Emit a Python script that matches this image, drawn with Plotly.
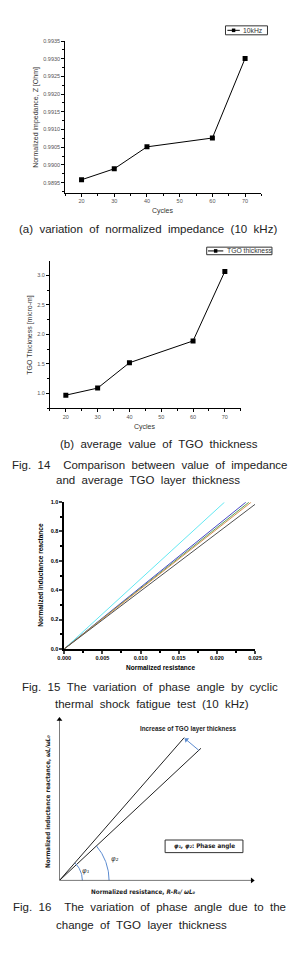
import numpy as np
import plotly.graph_objects as go

W, H = 305, 954

# ---------------- data ----------------
cycles = [20, 30, 40, 60, 70]
impedance_10khz = [0.98958, 0.98989, 0.99051, 0.99076, 0.99301]
tgo_thickness = [0.97, 1.09, 1.52, 1.89, 3.07]

# Fig.15: end points of the phase lines (from origin)
phase_res_end = [0.0210, 0.0238, 0.0242, 0.0245, 0.0250]
phase_react_end = [1.0, 1.0, 1.0, 1.0, 0.985]
phase_colors = ["#63e8f2", "#4848c8", "#5aa05a", "#d89050", "#505050"]

# Fig.16 schematic (units: diagram coordinates)
schem_line1_end = [130.7, 143.7]
schem_line2_end = [148.3, 133.0]
schem_arc_radius = [24, 52]
schem_shift_arrow_x = [146, 133]
schem_shift_arrow_y = [131, 141.5]
x_axis_len, y_axis_len = 202, 162


def px(x):
    return x / W


def py(y):
    return 1 - y / H


fig = go.Figure()

# ---- (a) impedance ----
fig.add_trace(go.Scatter(x=cycles, y=impedance_10khz, mode="lines+markers",
                         line=dict(color="black", width=1),
                         marker=dict(symbol="square", size=5, color="black"),
                         xaxis="x", yaxis="y", showlegend=False))
# ---- (b) TGO ----
fig.add_trace(go.Scatter(x=cycles, y=tgo_thickness, mode="lines+markers",
                         line=dict(color="black", width=1),
                         marker=dict(symbol="square", size=5, color="black"),
                         xaxis="x2", yaxis="y2", showlegend=False))
# ---- Fig 15 ----
for xr, yr, c in zip(phase_res_end, phase_react_end, phase_colors):
    fig.add_trace(go.Scatter(x=[0, xr], y=[0, yr], mode="lines",
                             line=dict(color=c, width=1),
                             xaxis="x3", yaxis="y3", showlegend=False))
# ---- Fig 16 ----
for end in (schem_line1_end, schem_line2_end):
    fig.add_trace(go.Scatter(x=[0, end[0]], y=[0, end[1]], mode="lines",
                             line=dict(color="#222", width=1),
                             xaxis="x4", yaxis="y4", showlegend=False))
for r, end in zip(schem_arc_radius, (schem_line1_end, schem_line2_end)):
    ang = np.arctan2(end[1], end[0])
    t = np.linspace(0, ang, 40)
    fig.add_trace(go.Scatter(x=r * np.cos(t), y=r * np.sin(t), mode="lines",
                             line=dict(color="#5b8bd0", width=1),
                             xaxis="x4", yaxis="y4", showlegend=False))
# axis arrows + thickness-shift arrow (triangle head rotated along the shaft)
for xs, ys, col, sz in [([0, 0], [0, y_axis_len], "black", 5),
                        ([0, x_axis_len], [0, 0], "black", 5),
                        (schem_shift_arrow_x, schem_shift_arrow_y, "#5b8bd0", 5)]:
    head_angle = float(np.degrees(np.arctan2(xs[1] - xs[0], ys[1] - ys[0])))
    fig.add_trace(go.Scatter(x=xs, y=ys, mode="lines",
                             line=dict(color=col, width=1),
                             xaxis="x4", yaxis="y4", showlegend=False, cliponaxis=False))
    fig.add_trace(go.Scatter(x=[xs[1]], y=[ys[1]], mode="markers",
                             marker=dict(symbol="triangle-up", angle=head_angle, size=sz,
                                         color=col, line=dict(width=0)),
                             xaxis="x4", yaxis="y4", showlegend=False, cliponaxis=False))

tickfont_ab = dict(size=5.5, color="#555", family="Liberation Sans")
axis_common = dict(showline=True, linecolor="black", linewidth=1, ticks="outside",
                   ticklen=3, tickcolor="black", showgrid=False, zeroline=False,
                   tickfont=tickfont_ab, mirror=False)

fig.update_layout(
    width=W, height=H, margin=dict(l=0, r=0, t=0, b=0),
    paper_bgcolor="white", plot_bgcolor="white",
    xaxis=dict(domain=[px(61), px(266.7)], range=[15, 75], dtick=10, anchor="y",
               minor=dict(ticks="outside", dtick=5, ticklen=2, tickcolor="black"), **axis_common),
    yaxis=dict(domain=[py(190.7), py(38.3)], range=[0.98922, 0.9935], dtick=0.0005,
               tickformat=".4f", anchor="x",
               minor=dict(ticks="outside", dtick=0.00025, ticklen=2, tickcolor="black"), **axis_common),
    xaxis2=dict(domain=[px(45), px(245)], range=[15, 75], dtick=10, anchor="y2",
                minor=dict(ticks="outside", dtick=5, ticklen=2, tickcolor="black"), **axis_common),
    yaxis2=dict(domain=[py(407.7), py(260)], range=[0.75, 3.24], dtick=0.5, tickformat=".1f",
                anchor="x2",
                minor=dict(ticks="outside", dtick=0.25, ticklen=2, tickcolor="black"), **axis_common),
    xaxis3=dict(domain=[px(60), px(260)], range=[0, 0.025], dtick=0.005, tickformat=".3f",
                anchor="y3", showline=True, linecolor="black", linewidth=1.5, ticks="outside",
                ticklen=3, tickwidth=1.5, showgrid=False, zeroline=False,
                tickfont=dict(size=5.5, color="black", family="Liberation Sans", weight="bold"),
                minor=dict(ticks="outside", dtick=0.0025, ticklen=2, tickcolor="black")),
    yaxis3=dict(domain=[py(650), py(502.3)], range=[0, 1.0], dtick=0.2, tickformat=".1f",
                anchor="x3", showline=True, linecolor="black", linewidth=1.5, ticks="outside",
                ticklen=3, tickwidth=1.5, showgrid=False, zeroline=False,
                tickfont=dict(size=5.5, color="black", family="Liberation Sans", weight="bold"),
                minor=dict(ticks="outside", dtick=0.1, ticklen=2, tickcolor="black")),
    xaxis4=dict(domain=[px(55), px(257)], range=[0, x_axis_len], visible=False, anchor="y4"),
    yaxis4=dict(domain=[py(883), py(721)], range=[0, y_axis_len], visible=False, anchor="x4"),
)

ann = []
shapes = []


def text(x, y, s, size=12, color="#222", angle=0, bold=False, family="Liberation Sans",
         xanchor="center"):
    ann.append(dict(x=px(x), y=py(y), xref="paper", yref="paper", text=s, showarrow=False,
                    textangle=angle, xanchor=xanchor, yanchor="middle",
                    font=dict(size=size, color=color, family=family,
                              weight="bold" if bold else "normal")))


# axis titles (a), (b)
text(31, 115, "Normalized impedance, Z [Ohm]", size=7, color="#333", angle=-90)
text(164, 209, "Cycles", size=7, color="#333")
text(24, 334, "TGO Thickness [micro-m]", size=7, color="#333", angle=-90)
text(145, 426.7, "Cycles", size=7, color="#333")
# Fig 15 titles
text(35, 575, "Normalized inductance reactance", size=6.5, color="black", angle=-90, bold=True)
text(161, 669, "Normalized resistance", size=6.5, color="black", bold=True)
# Fig 16 titles
text(43, 804, "Normalized inductance reactance, <i>ωL/ωL₀</i>", size=6.3,
     color="#222", angle=-90, bold=True, family="DejaVu Sans Condensed")
text(143.5, 894, "Normalized resistance, <i>R-R₀/ ωL₀</i>", size=6.3,
     color="#222", bold=True, family="DejaVu Sans Condensed")
text(190, 731, "Increase of TGO layer thickness", size=6.3, color="#222", bold=True)
text(206.5, 848.7, "<i>φ₁, φ₂</i>: Phase angle", size=6.3, color="#222", bold=True,
     family="DejaVu Sans Condensed")
shapes.append(dict(type="rect", xref="paper", yref="paper", x0=px(165.7), x1=px(247.3),
                   y0=py(855), y1=py(842.3), line=dict(color="#333", width=1)))
text(83, 873, "<i>φ₁</i>", size=7, color="#333", family="DejaVu Sans")
text(113, 861, "<i>φ₂</i>", size=7, color="#333", family="DejaVu Sans")


# legends (manual)
def legend_box(x0, y0, x1, y1, lx0, lx1, label):
    ym = (y0 + y1) / 2
    shapes.append(dict(type="rect", xref="paper", yref="paper", x0=px(x0), x1=px(x1),
                       y0=py(y1), y1=py(y0), line=dict(color="#333", width=1)))
    shapes.append(dict(type="line", xref="paper", yref="paper", x0=px(lx0), x1=px(lx1),
                       y0=py(ym), y1=py(ym), line=dict(color="black", width=1)))
    c = (lx0 + lx1) / 2
    shapes.append(dict(type="rect", xref="paper", yref="paper", x0=px(c - 1.8), x1=px(c + 1.8),
                       y0=py(ym + 1.8), y1=py(ym - 1.8), fillcolor="black",
                       line=dict(color="black", width=0)))
    text(lx1 + 1.5, ym, label, size=6.8, color="#333", xanchor="left")


legend_box(229, 23, 273, 32, 231, 244, "10kHz")
legend_box(209.3, 245.7, 277.7, 253.3, 210.7, 226.7, "TGO thickness")

# captions
NB = "\u00a0"


def cap(x, y, s, size=12, gap=1):
    s = s.replace(" ", NB * gap)
    text(x, y, s, size=size, color="#222", family="Liberation Sans")


cap(147.5, 227.5, "(a) variation of normalized impedance (10 kHz)", size=11.5, gap=2)
cap(159.5, 443.7, "(b) average value of TGO thickness", size=11.5, gap=2)
cap(150, 465, "Fig. 14  Comparison between value of impedance", size=11.5, gap=2)
cap(148, 480, "and average TGO layer thickness", size=11.5, gap=2)
cap(150, 688, "Fig. 15 The variation of phase angle by cyclic", size=11.5, gap=2)
cap(151.5, 705, "thermal shock fatigue test (10 kHz)", size=11.5, gap=2)
cap(149.5, 910, "Fig. 16  The variation of phase angle due to the", size=11.5, gap=2)
cap(141, 928, "change of TGO layer thickness", size=11.5, gap=2)

fig.update_layout(annotations=ann, shapes=shapes)
fig.write_html("out.html")
